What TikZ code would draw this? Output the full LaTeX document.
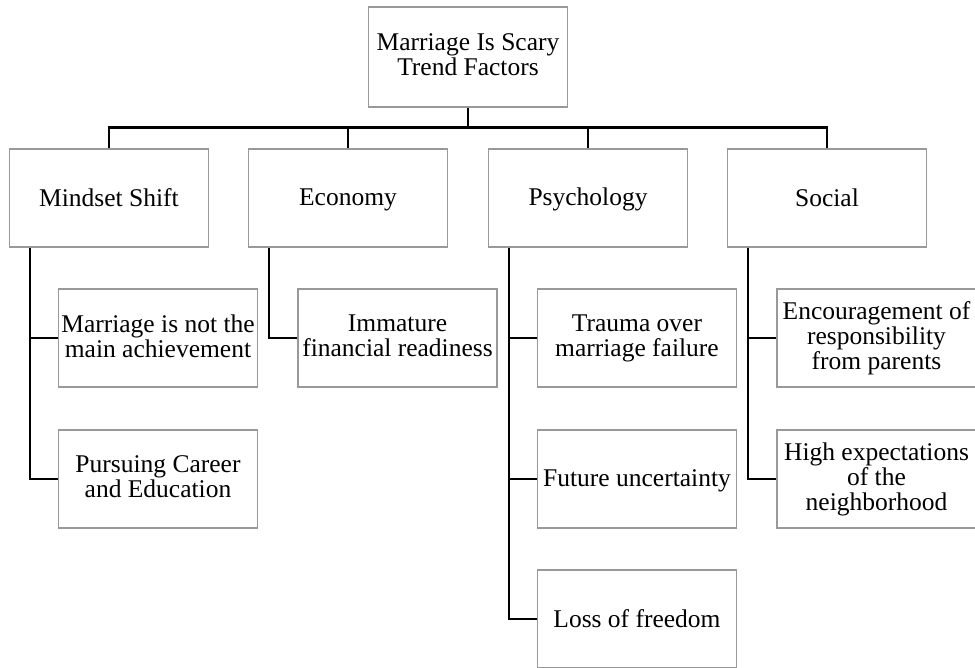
\documentclass[tikz,border=0pt]{standalone}
\usepackage{fontspec}
\setmainfont{Liberation Serif}
\usetikzlibrary{calc}
\newcommand{\mystrut}{\rule[-4.5pt]{0pt}{25pt}}
\begin{document}
\begin{tikzpicture}[x=1pt,y=1pt,
  box/.style={draw=boxgrey, line width=1.2pt, minimum width=199pt, minimum height=98pt,
    inner sep=0pt, align=center,
    font=\fontsize{25.5}{25}\selectfont,
    execute at begin node=\mystrut, execute at end node=\mystrut},
  conn/.style={draw=black, line width=2.7pt}]
\definecolor{boxgrey}{HTML}{999999}
\clip (0,0) rectangle (975,-667);
\useasboundingbox (0,0) rectangle (975,-667);
% root
\node[box, minimum height=100pt] (top) at (468,-57) {Marriage Is Scary\\Trend Factors};
% level 1
\node[box] (ms) at (109,-198) {Mindset Shift};
\node[box] (ec) at (348,-198) {Economy};
\node[box] (ps) at (588,-198) {Psychology};
\node[box] (so) at (827,-198) {Social};
% level 2
\node[box] (ms1) at (158,-338) {Marriage is not the\\main achievement};
\node[box] (ms2) at (158,-479) {Pursuing Career\\and Education};
\node[box] (ec1) at (397.5,-338) {Immature\\financial readiness};
\node[box] (ps1) at (637,-338) {Trauma over\\marriage failure};
\node[box] (ps2) at (637,-479) {Future uncertainty};
\node[box] (ps3) at (637,-619) {Loss of freedom};
\node[box] (so1) at (876.5,-338) {Encouragement of\\responsibility\\from parents};
\node[box] (so2) at (876.5,-479) {High expectations\\of the\\neighborhood};
% bus
\coordinate (bus) at ($(top.south)+(0,-20pt)$);
\draw[conn] (top.south) -- (bus);
\draw[conn] (bus) -| (ms.north);
\draw[conn] (bus) -| (ec.north);
\draw[conn] (bus) -| (ps.north);
\draw[conn] (bus) -| (so.north);
% children connectors
\draw[conn] (ms.south west) ++(21pt,0) |- (ms1.west);
\draw[conn] (ms.south west) ++(21pt,0) |- (ms2.west);
\draw[conn] (ec.south west) ++(21pt,0) |- (ec1.west);
\draw[conn] (ps.south west) ++(21pt,0) |- (ps1.west);
\draw[conn] (ps.south west) ++(21pt,0) |- (ps2.west);
\draw[conn] (ps.south west) ++(21pt,0) |- (ps3.west);
\draw[conn] (so.south west) ++(21pt,0) |- (so1.west);
\draw[conn] (so.south west) ++(21pt,0) |- (so2.west);
\end{tikzpicture}
\end{document}
